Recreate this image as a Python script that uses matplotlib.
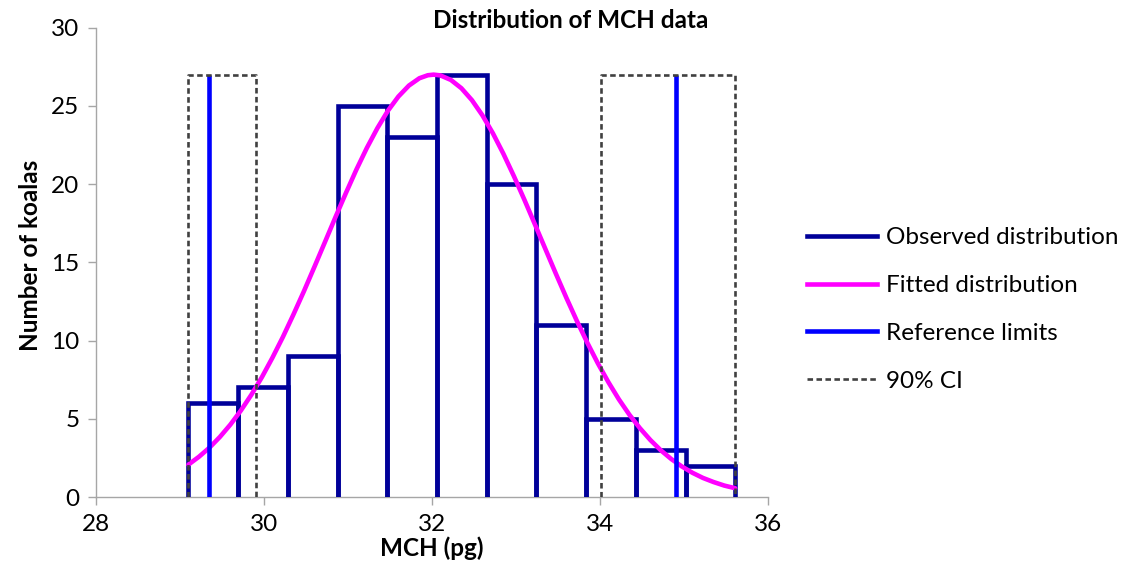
import matplotlib
matplotlib.use("Agg")
import matplotlib.pyplot as plt
from matplotlib.lines import Line2D

plt.rcParams['font.family'] = ['Lato', 'DejaVu Sans']

# ---- data ----
bin_edges = [29.10, 29.69, 30.28, 30.88, 31.47, 32.06, 32.65, 33.24, 33.83, 34.43, 35.02, 35.61]
counts = [6, 7, 9, 25, 23, 27, 20, 11, 5, 3, 2]

fit_x = [29.10, 29.225, 29.35, 29.475, 29.60, 29.725, 29.85, 29.975, 30.10, 30.225,
         30.35, 30.475, 30.60, 30.725, 30.85, 30.975, 31.10, 31.225, 31.35, 31.475,
         31.60, 31.725, 31.85, 31.95, 32.02, 32.10, 32.225, 32.35, 32.475, 32.60,
         32.725, 32.85, 32.975, 33.10, 33.225, 33.35, 33.475, 33.60, 33.725, 33.85,
         33.975, 34.10, 34.225, 34.35, 34.475, 34.60, 34.725, 34.85, 34.975, 35.10,
         35.225, 35.35, 35.48, 35.61]
fit_y = [2.07, 2.57, 3.15, 3.84, 4.63, 5.53, 6.54, 7.66, 8.90, 10.23,
         11.66, 13.15, 14.71, 16.29, 17.88, 19.43, 20.93, 22.32, 23.58, 24.69,
         25.60, 26.30, 26.77, 26.96, 27.00, 26.95, 26.66, 26.13, 25.37, 24.40,
         23.25, 21.94, 20.51, 19.00, 17.43, 15.85, 14.27, 12.73, 11.25, 9.85,
         8.54, 7.34, 6.24, 5.26, 4.40, 3.64, 2.98, 2.42, 1.95, 1.55,
         1.22, 0.96, 0.73, 0.56]

ref_limits = [29.35, 34.90]
ci_boxes = [(29.10, 29.90), (34.01, 35.61)]
marker_height = 27

x_ticks = [28, 30, 32, 34, 36]
y_ticks = [0, 5, 10, 15, 20, 25, 30]

navy = '#000099'
magenta = '#FF00FF'
blue = '#0000FF'
dark = '#404040'
gray = '#A6A6A6'

fs = 17.5

fig = plt.figure(figsize=(11.32, 5.81), dpi=100)
ax = fig.add_axes([96/1132, 1-497/581, (768-96)/1132, (497-27.7)/581])

lw = 3.3
for i, h in enumerate(counts):
    l, r = bin_edges[i], bin_edges[i+1]
    ax.plot([l, l, r, r], [0, h, h, 0], color=navy, lw=lw, solid_joinstyle='miter',
            solid_capstyle='butt', zorder=3)

ax.plot(fit_x, fit_y, color=magenta, lw=lw, solid_capstyle='round',
        solid_joinstyle='round', zorder=4)

for xr in ref_limits:
    ax.plot([xr, xr], [0, marker_height], color=blue, lw=lw, solid_capstyle='butt', zorder=5)

for a, b in ci_boxes:
    ax.plot([a, a, b, b], [0, marker_height, marker_height, 0], color=dark, lw=1.9,
            linestyle=(0, (2.1, 1.3)), zorder=6)

ax.set_xlim(28, 36)
ax.set_ylim(0, 30)
ax.set_xticks(x_ticks)
ax.set_yticks(y_ticks)
ax.tick_params(axis='both', direction='out', length=6, width=1, color=gray,
               labelsize=fs, pad=6)
for s in ['top', 'right']:
    ax.spines[s].set_visible(False)
for s in ['left', 'bottom']:
    ax.spines[s].set_color(gray)
    ax.spines[s].set_linewidth(1)

fig.text(0.504, 1-20/581, 'Distribution of MCH data', ha='center', va='center',
         fontsize=17.5, fontweight='bold')
fig.text(432/1132, 1-548/581, 'MCH (pg)', ha='center', va='center',
         fontsize=fs, fontweight='bold')
fig.text(31/1132, 1-255/581, 'Number of koalas', ha='center', va='center',
         rotation=90, fontsize=fs, fontweight='bold')

handles = [
    Line2D([], [], color=navy, lw=lw),
    Line2D([], [], color=magenta, lw=lw),
    Line2D([], [], color=blue, lw=lw),
    Line2D([], [], color=dark, lw=1.9, linestyle=(0, (2.1, 1.3))),
]
labels = ['Observed distribution', 'Fitted distribution', 'Reference limits', '90% CI']
fig.legend(handles, labels, loc='center left', bbox_to_anchor=(807/1132, 1-309.5/581),
           frameon=False, fontsize=fs, handlelength=2.9, handletextpad=0.33,
           labelspacing=1.1, borderpad=0, borderaxespad=0)

fig.savefig('out.png', dpi=100)
